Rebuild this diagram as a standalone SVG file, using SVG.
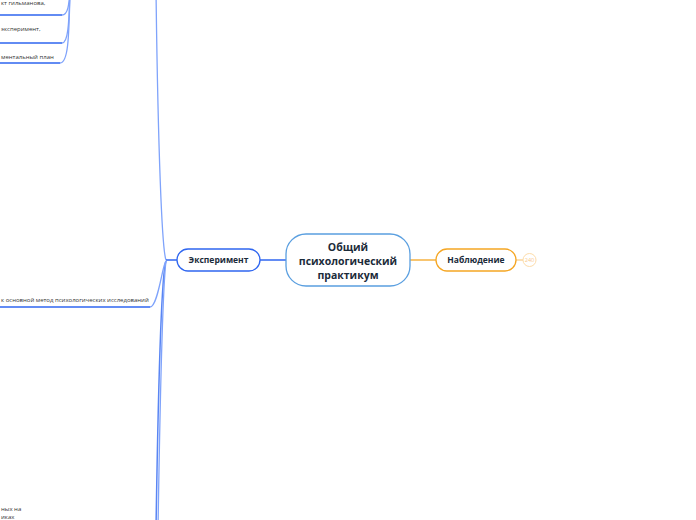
<svg xmlns="http://www.w3.org/2000/svg" width="696" height="520" viewBox="0 0 696 520">
<style>
.lbl{font-family:"Open Sans","Liberation Sans",sans-serif;font-weight:700;fill:#1b2b3a;text-anchor:middle}
.sub{font-family:"Open Sans","Liberation Sans",sans-serif;font-size:6px;fill:#333;}
.blue{fill:none;stroke:#2f66f0;stroke-width:1.5}
.lightblue{fill:none;stroke:#7fa3fb;stroke-width:1.3}
</style>
<rect width="696" height="520" fill="#fff"/>
<g id="connectors">
<path class="lightblue" d="M166,260 C162,250 158,150 156,-10"/>
<path class="blue" d="M166,261 C161,275 158,400 156,530" stroke-opacity="0.8"/>
<path class="lightblue" d="M166,261 C163,285 160,400 158,530"/>
<path class="lightblue" d="M166,261 C162,266 158,307 150,307"/>
<path class="blue" d="M150,307 H0"/>
<path class="blue" d="M166,260 H177"/>
<path class="blue" d="M260,260 H286" stroke="#4a86e8"/>
<path fill="none" stroke="#f5a623" stroke-width="1.3" d="M410,260 H436"/>
<path fill="none" stroke="#f8c06a" stroke-width="1" d="M516,260 H523"/>
<path class="lightblue" d="M70,-10 C69,5 68,15 62,15"/>
<path class="lightblue" d="M70,-10 C69,25 68,43 62,43"/>
<path class="lightblue" d="M70,-10 C69,40 68,63 60,63"/>
<path class="blue" d="M62,15 H0 M62,43 H0 M60,63 H0"/>
</g>
<g id="center">
<rect x="286" y="234" width="124" height="52" rx="20" fill="#fff" stroke="#5a9fe0" stroke-width="1.3"/>
<text class="lbl" font-size="10.5" x="348" y="251" fill="#1b2747">Общий</text>
<text class="lbl" font-size="10.5" x="348" y="265">психологический</text>
<text class="lbl" font-size="10.5" x="348" y="279">практикум</text>
</g>
<g id="experiment">
<rect x="177" y="249" width="83" height="22" rx="11" fill="#fff" stroke="#2f66f0" stroke-width="1.3"/>
<text class="lbl" font-size="8.5" x="218.5" y="263">Эксперимент</text>
</g>
<g id="observation">
<rect x="436" y="249" width="80" height="22" rx="11" fill="#fff" stroke="#f5a623" stroke-width="1.3"/>
<text class="lbl" font-size="8.5" x="476" y="263">Наблюдение</text>
</g>
<g id="count">
<circle cx="529.5" cy="260" r="6.5" fill="#fff" stroke="#fddcaa" stroke-width="1"/>
<text x="529.5" y="262" font-family="'Open Sans','Liberation Sans',sans-serif" font-size="5.5" fill="#f9c98a" text-anchor="middle">240</text>
</g>
<g id="sub-texts">
<text class="sub" x="1" y="5">кт гильманова,</text>
<text class="sub" x="1" y="31">эксперимент,</text>
<text class="sub" x="1" y="59">ментальный план</text>
<text class="sub" x="1" y="302">к основной метод психологических исследований</text>
<text class="sub" x="1" y="511">ных на</text>
<text class="sub" x="1" y="519">иках</text>
</g>
</svg>
